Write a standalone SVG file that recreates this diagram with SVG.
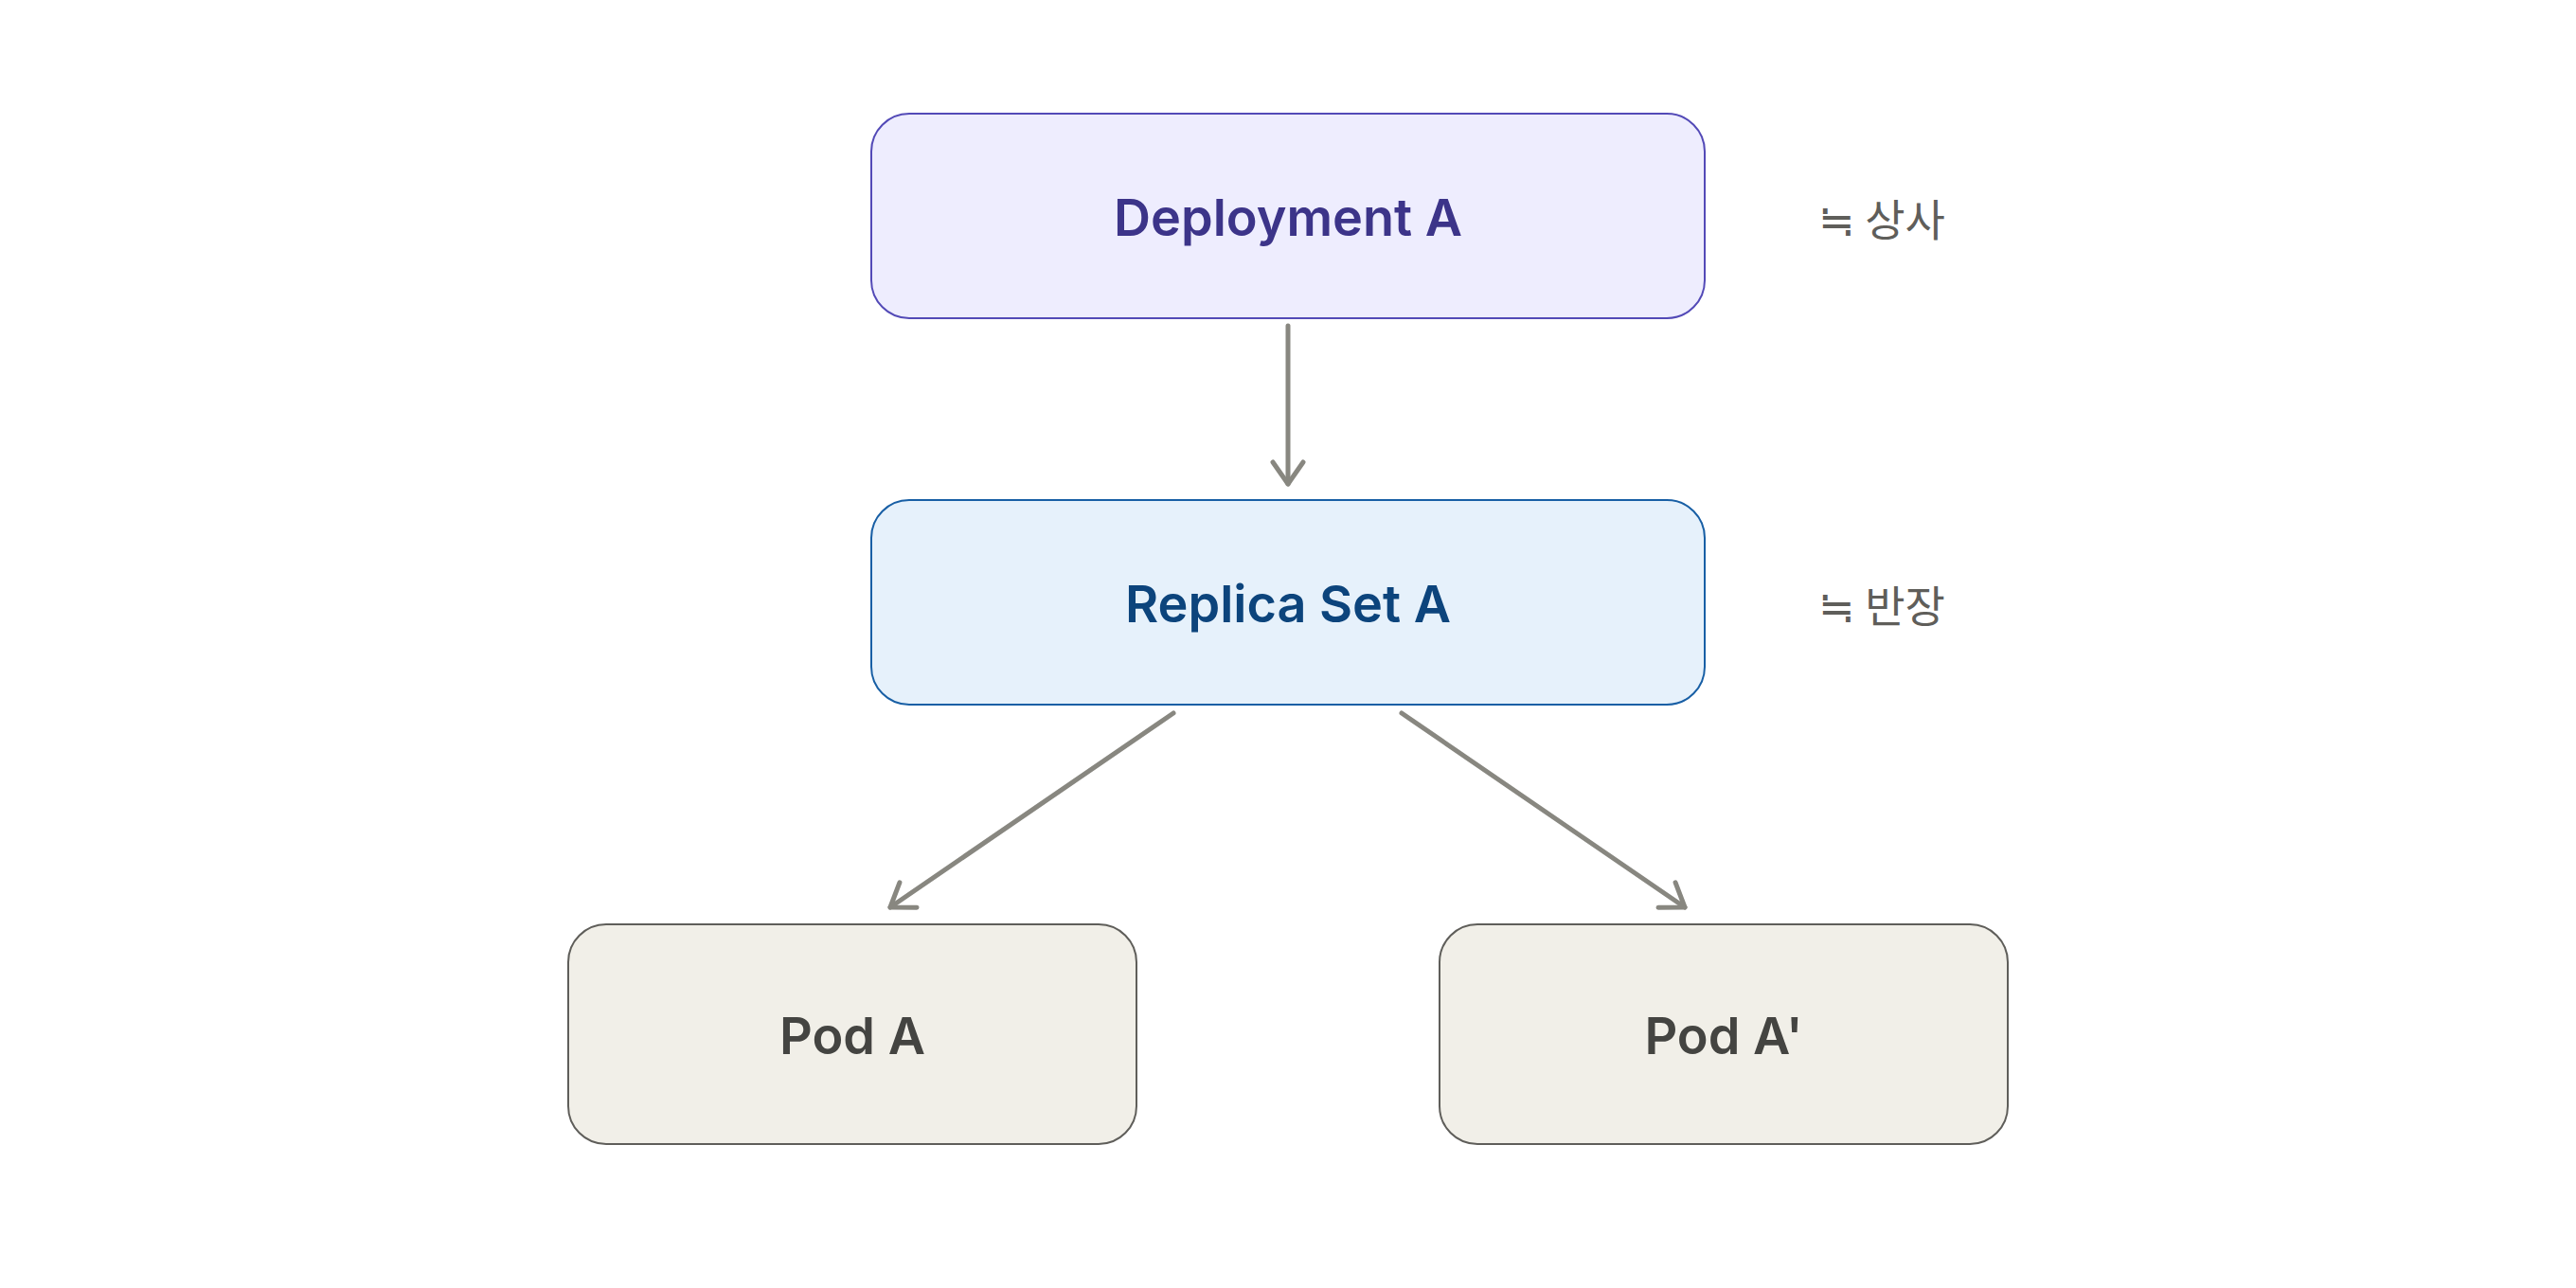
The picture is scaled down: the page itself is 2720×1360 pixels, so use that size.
<svg xmlns="http://www.w3.org/2000/svg" width="2720" height="1360" viewBox="0 0 2720 1360">
<style>
.box{stroke-width:2}
.lbl{font-family:Inter,"Noto Sans","Noto Sans CJK KR",sans-serif;font-size:54px;font-weight:600;text-anchor:middle;dominant-baseline:central}
.note{font-family:"Noto Sans CJK KR","Noto Sans",sans-serif;font-size:46px;font-weight:400;fill:#5F5E5A;dominant-baseline:central}
.edge{stroke:#888780;stroke-width:5;fill:none;stroke-linecap:round}
</style>
<defs>
<marker id="arr" markerUnits="userSpaceOnUse" markerWidth="60" markerHeight="60" refX="30" refY="30" orient="auto" viewBox="0 0 60 60">
<path d="M7,14 L30,30 L7,46" fill="none" stroke="#888780" stroke-width="5" stroke-linecap="round" stroke-linejoin="round"/>
</marker>
</defs>
<rect width="2720" height="1360" fill="#ffffff"/>
<g id="connectors">
<line class="edge" x1="1360" y1="344" x2="1360" y2="511" marker-end="url(#arr)"/>
<line class="edge" x1="1239" y1="753" x2="940" y2="958" marker-end="url(#arr)"/>
<line class="edge" x1="1480" y1="753" x2="1779" y2="958" marker-end="url(#arr)"/>
</g>
<g id="deployment">
<rect class="box" x="920" y="120" width="880" height="216" rx="40" fill="#EEEDFE" stroke="#534AB7"/>
<text class="lbl" x="1360" y="229" fill="#3C3489">Deployment A</text>
</g>
<g id="replicaset">
<rect class="box" x="920" y="528" width="880" height="216" rx="40" fill="#E6F1FB" stroke="#185FA5"/>
<text class="lbl" x="1360" y="637" fill="#0C447C">Replica Set A</text>
</g>
<g id="podA">
<rect class="box" x="600" y="976" width="600" height="232" rx="40" fill="#F1EFE8" stroke="#5F5E5A"/>
<text class="lbl" x="900" y="1093" fill="#444441">Pod A</text>
</g>
<g id="podA2">
<rect class="box" x="1520" y="976" width="600" height="232" rx="40" fill="#F1EFE8" stroke="#5F5E5A"/>
<text class="lbl" x="1820" y="1093" fill="#444441">Pod A'</text>
</g>
<g id="note-deployment">
<text class="note" x="1920" y="229">≒ 상사</text>
</g>
<g id="note-replicaset">
<text class="note" x="1920" y="637">≒ 반장</text>
</g>
</svg>
